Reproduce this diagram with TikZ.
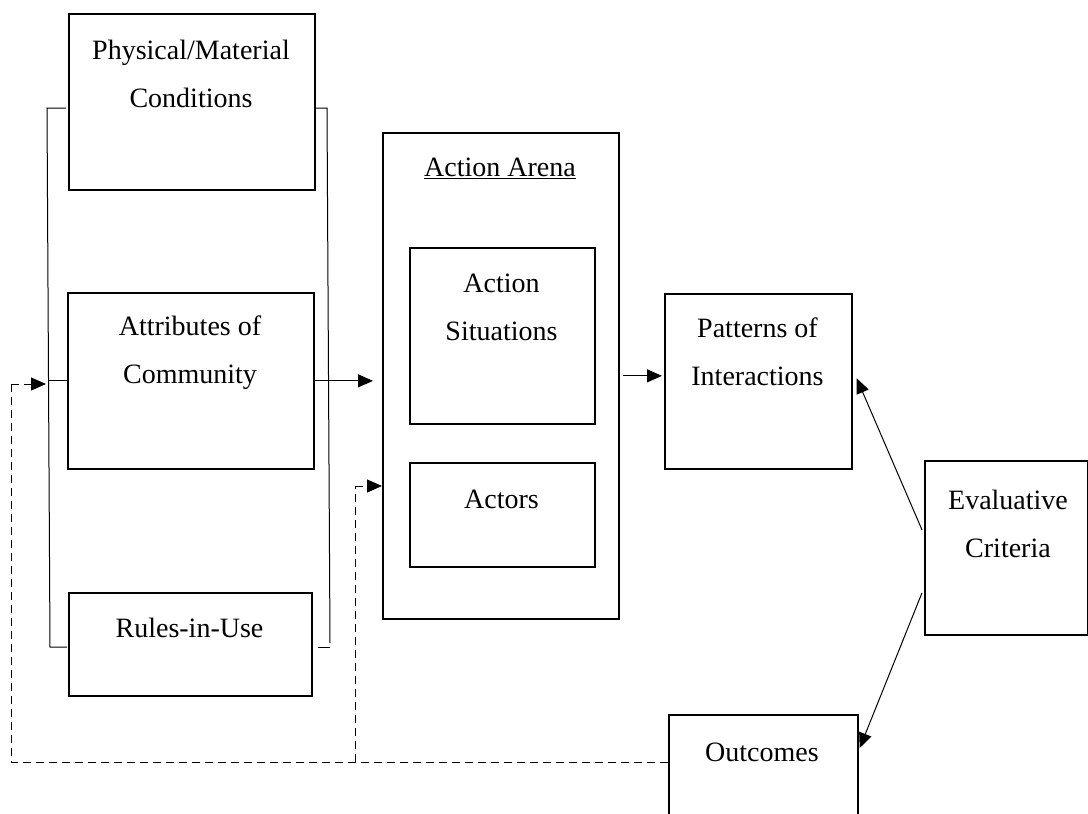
\documentclass[tikz,border=0pt]{standalone}
\usepackage{fontspec}
\setmainfont{Liberation Serif}
\usetikzlibrary{arrows.meta,calc}
\begin{document}
\begin{tikzpicture}[x=1pt,y=-1pt,
  box/.style={draw,line width=1.7pt,rectangle,inner sep=0pt,anchor=north west},
  lbl/.style={font=\fontsize{28}{48}\selectfont,align=center,inner sep=0pt},
  conn/.style={line width=1pt},
  tip/.style={-{Triangle[length=15pt,width=13pt]}},
  arr/.style={conn,tip},
  fb/.style={line width=1pt,dash pattern=on 8pt off 5pt}]
\path[use as bounding box] (0,0) rectangle (1088,814);
\clip (0,0) rectangle (1088,814);

% left column: context boxes
\node[box,minimum width=246pt,minimum height=176pt] (phys) at (68,13) {};
\node[lbl] (physT) at (191,74) {Physical/Material\\Conditions};
\node[box,minimum width=246pt,minimum height=176pt] (attr) at (67,292) {};
\node[lbl] (attrT) at (190,353) {Attributes of\\Community};
\node[box,minimum width=243pt,minimum height=103pt] (rules) at (68,592) {};
\node[lbl] (rulesT) at (189.5,628) {Rules-in-Use};

% action arena and its parts
\node[box,minimum width=236pt,minimum height=486pt] (arena) at (382,132) {};
\node[lbl] (arenaT) at (500,168) {\underline{Action Arena}};
\node[box,minimum width=185pt,minimum height=176pt] (sit) at (409,247) {};
\node[lbl] (sitT) at (501.5,307) {Action\\Situations};
\node[box,minimum width=185pt,minimum height=104pt] (act) at (409,462) {};
\node[lbl] (actT) at (501.5,499) {Actors};

% results
\node[box,minimum width=187pt,minimum height=175pt] (pat) at (664,293) {};
\node[lbl] (patT) at (757.5,352) {Patterns of\\Interactions};
\node[box,minimum width=163pt,minimum height=174pt] (eval) at (924,460) {};
\node[lbl] (evalT) at (1008,524) {Evaluative\\Criteria};
\node[box,minimum width=189pt,minimum height=140pt] (out) at (668,714) {};
\node[lbl] (outT) at (762,752) {Outcomes};

% brackets grouping the left column
\coordinate (lt) at (47,108);
\coordinate (lb) at (50,647);
\coordinate (rt) at (327,108);
\coordinate (rb) at (330,647);
\draw[conn] ($(phys.west |- lt)+(-2,0)$) -- (lt) -- (lb) -- ($(rules.west |- lb)+(-1,0)$);
\draw[conn] (phys.east |- rt) -- (rt) -- ($(rb)+(0,-4)$);
\draw[conn] (rb) -- ($(rules.east |- rb)+(5,0)$);
\draw[conn] (attr.west) -- ($(attr.west -| lt)+(1.5,0)$);

% main flow
\draw[arr,shorten >=9pt] (attr.east) -- (attr.east -| arena.west);
\draw[arr,shorten <=3pt,shorten >=2pt] (arena.east) -- (arena.east -| pat.west);
\draw[arr] ($(eval.west)+(-2,-18)$) -- ($(pat.east)+(4,-3)$);
\draw[arr] ($(eval.west)+(-2,45)$) -- ($(out.north east)+(1,34)$);

% feedback from outcomes
\coordinate (fbA) at (11,762);
\coordinate (fbAt) at (11,384);
\coordinate (fbB) at (355,762);
\coordinate (fbBt) at (355,486);
\draw[fb] (out.west |- fbA) -- (fbA) -- (fbAt);
\draw[fb,tip] (fbAt) -- ($(fbAt -| lt)+(-1,0)$);
\draw[fb] (fbB) -- (fbBt);
\draw[fb,tip] (fbBt) -- (fbBt -| arena.west);
\end{tikzpicture}
\end{document}
